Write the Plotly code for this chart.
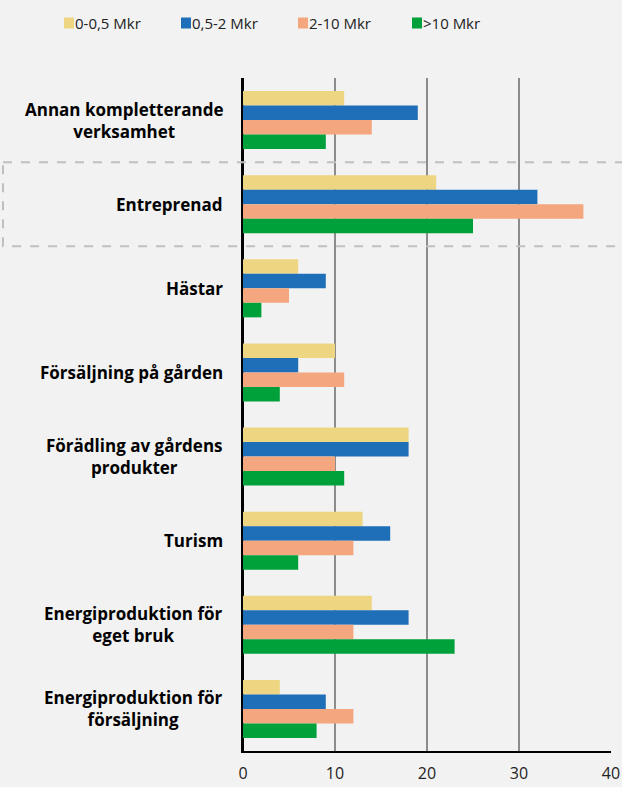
import plotly.graph_objects as go

categories = [
    "Annan kompletterande<br>verksamhet",
    "Entreprenad",
    "Hästar",
    "Försäljning på gården",
    "Förädling av gårdens<br>produkter",
    "Turism",
    "Energiproduktion för<br>eget bruk",
    "Energiproduktion för<br>försäljning",
]
series_names = ["0-0,5 Mkr", "0,5-2 Mkr", "2-10 Mkr", ">10 Mkr"]
v_0_05 = [11, 21, 6, 10, 18, 13, 14, 4]
v_05_2 = [19, 32, 9, 6, 18, 16, 18, 9]
v_2_10 = [14, 37, 5, 11, 10, 12, 12, 12]
v_10 = [9, 25, 2, 4, 11, 6, 23, 8]
x_ticks = [0, 10, 20, 30, 40]

colors = ["#EDD582", "#1F6FB8", "#F4A67E", "#00A13B"]
values = [v_0_05, v_05_2, v_2_10, v_10]

FONT = "Open Sans, Noto Sans, sans-serif"
W, H = 622, 787
L, R, T, B = 243, 11, 78, 36
pw, ph = W - L - R, H - T - B


def px_x(px):
    return (px - L) / pw


def px_y(py):
    return 1 - (py - T) / ph


fig = go.Figure()
for name, vals, col in zip(series_names, values, colors):
    fig.add_trace(go.Bar(
        y=categories, x=vals, name=name, orientation="h",
        marker=dict(color=col, line=dict(width=0)), showlegend=False,
    ))

fig.update_layout(
    width=W, height=H,
    margin=dict(l=L, r=R, t=T, b=B, autoexpand=False),
    paper_bgcolor="#F2F2F2", plot_bgcolor="#F2F2F2",
    barmode="group", bargap=0.31, bargroupgap=0,
    font=dict(family=FONT, size=15, color="#222222"),
    showlegend=False,
    xaxis=dict(range=[0, 40], tickvals=x_ticks, showgrid=True, gridcolor="#8C8C8C",
               gridwidth=2, zeroline=True, zerolinecolor="#000000", zerolinewidth=2,
               showline=True, linecolor="#000000", linewidth=2, ticks="",
               ticklabelstandoff=7, automargin=False,
               tickfont=dict(size=16, color="#222222"), fixedrange=True),
    yaxis=dict(autorange="reversed", showticklabels=False, showgrid=False,
               showline=True, linecolor="#000000", linewidth=2, ticks="",
               zeroline=False, fixedrange=True, automargin=False),
)

# category labels as centered annotations
for c in categories:
    fig.add_annotation(x=0, xref="paper", xanchor="right", xshift=-18,
                       y=c, yref="y", yanchor="middle", text=c, showarrow=False,
                       align="center", font=dict(size=17, color="#000000",
                       family=FONT, weight="bold"))

# legend (swatch + label) placed across the top
legend_swatch_x = [64, 181, 298, 412]
for name, col, sx in zip(series_names, colors, legend_swatch_x):
    fig.add_shape(type="rect", xref="paper", yref="paper",
                  x0=px_x(sx), x1=px_x(sx + 10), y0=px_y(17.5), y1=px_y(28.5),
                  fillcolor=col, line=dict(width=0))
    fig.add_annotation(x=px_x(sx + 9), xref="paper", xanchor="left",
                       y=px_y(23), yref="paper", yanchor="middle", text=name,
                       showarrow=False, font=dict(size=15, color="#222222", family=FONT))

# dashed highlight box around Entreprenad
fig.add_shape(type="rect", xref="paper", yref="y",
              x0=px_x(3), x1=px_x(W + 5), y0=0.5, y1=1.5,
              line=dict(color="#C0C0C0", width=2, dash="dash"), layer="above")

fig.write_html("out.html", config={"displayModeBar": False},
               post_script="document.body.style.margin='0';")
